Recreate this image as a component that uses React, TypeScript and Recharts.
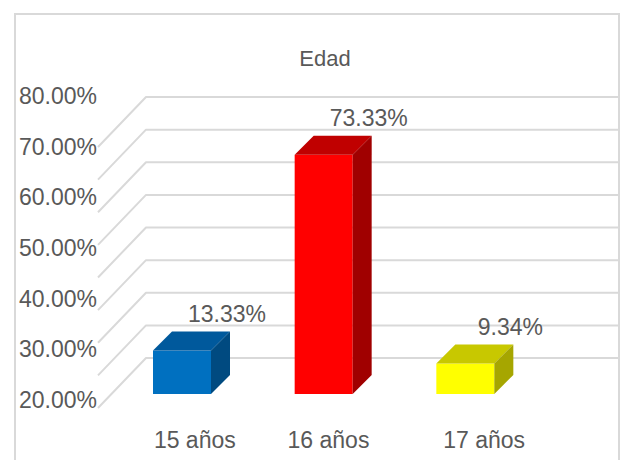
import React from 'react';
import { BarChart, Bar, XAxis, YAxis, CartesianGrid, LabelList } from 'recharts';

// values
const categories = ['15 años', '16 años', '17 años'];
const percentages = [13.33, 73.33, 9.34];
const axisTicks = [20, 30, 40, 50, 60, 70, 80];
const gridValues = [0, 10, 20, 30, 40, 50, 60, 70, 80];

const frontColors = ['#0070C0', '#FF0000', '#FFFF00'];
const topColors = ['#00599C', '#C00000', '#C8C800'];
const sideColors = ['#004A80', '#A00000', '#A6A600'];

const data = categories.map((name, i) => ({ name, value: percentages[i] }));

const DEPTH = 19;
const WALL_DX = 35;
const WALL_DY = 36;
const TEXT = '#595959';
const FONT = '"Liberation Sans", Arial, sans-serif';
const tickShift = [13, 5, 19];

const Box3D = (props: any) => {
  const { x, y, width, height, index } = props;
  const r = x + width;
  const b = y + height;
  return (
    <g>
      <rect x={x} y={y} width={width} height={height} fill={frontColors[index]} />
      <polygon
        points={`${x},${y} ${x + DEPTH},${y - DEPTH} ${r + DEPTH},${y - DEPTH} ${r},${y}`}
        fill={topColors[index]}
      />
      <polygon
        points={`${r},${y} ${r + DEPTH},${y - DEPTH} ${r + DEPTH},${b - DEPTH} ${r},${b}`}
        fill={sideColors[index]}
      />
    </g>
  );
};

const gridLine = (p: any) => {
  const yb = p.y1 - WALL_DY;
  const xb = p.x1 + WALL_DX;
  return (
    <path
      key={p.key}
      d={`M ${xb - 48} ${yb + 50} L ${xb} ${yb} L ${p.x2 + WALL_DX + 1} ${yb}`}
      fill="none"
      stroke="#d9d9d9"
      strokeWidth={2}
      strokeLinejoin="round"
    />
  );
};

const YTick = (props: any) => (
  <text x={97} y={props.y + 8} textAnchor="end" fill={TEXT} fontSize={23} fontFamily={FONT}>
    {Number(props.payload.value).toFixed(2)}%
  </text>
);

const XTick = (props: any) => (
  <text
    x={props.x + tickShift[props.index]}
    y={448}
    textAnchor="middle"
    fill={TEXT}
    fontSize={23}
    fontFamily={FONT}
  >
    {props.payload.value}
  </text>
);

const ValueLabel = (props: any) => {
  const { x, y, width, value } = props;
  return (
    <text
      x={x + width / 2 + 45}
      y={y - DEPTH - 10}
      textAnchor="middle"
      fill={TEXT}
      fontSize={23}
      fontFamily={FONT}
    >
      {Number(value).toFixed(2)}%
    </text>
  );
};

export default function App() {
  return (
    <div
      style={{
        position: 'absolute',
        left: 0,
        top: 0,
        width: 620,
        height: 460,
        overflow: 'hidden',
        background: '#fff',
        fontFamily: FONT,
      }}
    >
      <div
        style={{
          position: 'absolute',
          left: 14,
          top: 13,
          width: 606,
          height: 480,
          boxSizing: 'border-box',
          border: '2px solid #d9d9d9',
        }}
      />
      <div
        style={{
          position: 'absolute',
          left: 225,
          top: 48,
          width: 200,
          textAlign: 'center',
          fontSize: 22,
          lineHeight: '22px',
          color: TEXT,
        }}
      >
        Edad
      </div>
      <div style={{ position: 'absolute', left: 0, top: 0 }}>
        <BarChart
          width={620}
          height={460}
          data={data}
          margin={{ top: 70, right: 20, bottom: 0, left: 0 }}
        >
          <CartesianGrid
            yAxisId="bars"
            vertical={false}
            horizontal={gridLine}
            horizontalValues={gridValues}
          />
          <XAxis
            dataKey="name"
            axisLine={false}
            tickLine={false}
            tickSize={0}
            tickMargin={0}
            height={40}
            interval={0}
            padding={{ left: 0, right: 64 }}
            tick={XTick}
          />
          <YAxis
            yAxisId="labels"
            type="number"
            domain={[20, 80]}
            allowDataOverflow
            ticks={axisTicks}
            interval={0}
            axisLine={false}
            tickLine={false}
            width={111}
            padding={{ top: 26, bottom: 20 }}
            tick={YTick}
          />
          <YAxis
            yAxisId="bars"
            type="number"
            domain={[0, 80]}
            hide
            padding={{ top: 63, bottom: 26 }}
          />
          <Bar
            yAxisId="bars"
            dataKey="value"
            barSize={58}
            shape={Box3D}
            isAnimationActive={false}
          >
            <LabelList dataKey="value" content={ValueLabel} />
          </Bar>
        </BarChart>
      </div>
    </div>
  );
}
